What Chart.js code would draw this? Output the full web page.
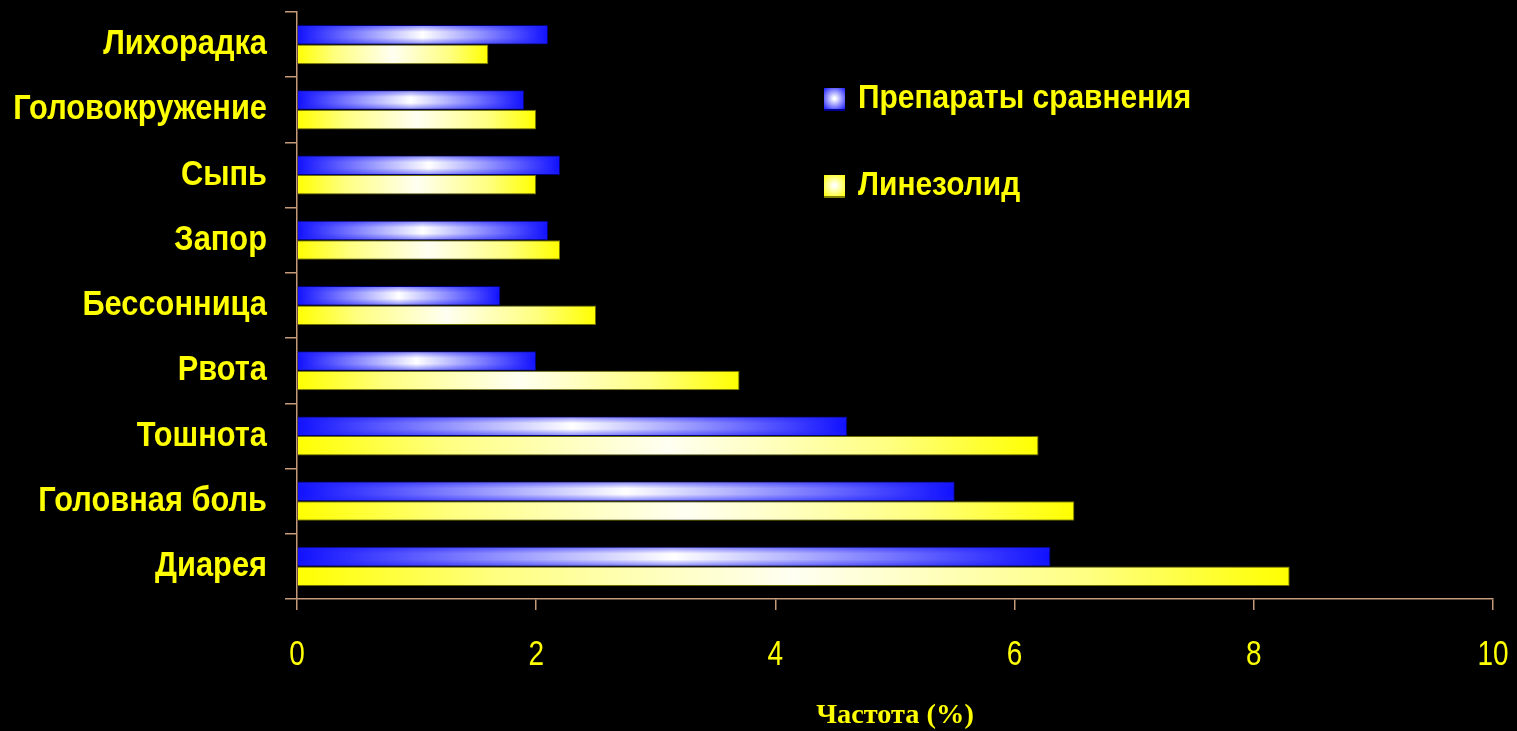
<!DOCTYPE html>
<html lang="ru">
<head>
<meta charset="utf-8">
<title>Частота нежелательных явлений</title>
<script src="https://cdn.jsdelivr.net/npm/chart.js@4.4.1/dist/chart.umd.min.js"></script>
<style>
  html, body { margin: 0; padding: 0; background: #000; }
  #wrap { position: relative; width: 1517px; height: 731px; }
</style>
</head>
<body>
<div id="wrap"><canvas id="aeChart"></canvas></div>
<script>
// Categories, top to bottom
const categories = ['Лихорадка', 'Головокружение', 'Сыпь', 'Запор', 'Бессонница', 'Рвота', 'Тошнота', 'Головная боль', 'Диарея'];
const comparatorValues = [2.1, 1.9, 2.2, 2.1, 1.7, 2.0, 4.6, 5.5, 6.3];
const linezolidValues = [1.6, 2.0, 2.0, 2.2, 2.5, 3.7, 6.2, 6.5, 8.3];
const seriesNames = ['Препараты сравнения', 'Линезолид'];
const xMin = 0, xMax = 10, xStep = 2;
const xTitle = 'Частота (%)';

const YELLOW = '#ffff00';
const AXIS = '#c49a7a';
const SANS = '"Liberation Sans", Arial, sans-serif';
const SERIF = '"Liberation Serif", "Times New Roman", serif';

// no narrow face installed, so squeeze the sans text horizontally
function narrowText(c, text, x, y, font, sx, align) {
  c.save();
  c.font = font;
  c.textBaseline = 'middle';
  c.textAlign = align;
  c.translate(x, y);
  c.scale(sx, 1);
  c.fillText(text, 0, 0);
  c.restore();
}

// shiny gradient along the length of each bar
function barFill(edge, mid, light) {
  return ctx => {
    const chart = ctx.chart;
    if (!chart.chartArea || ctx.raw == null) return edge;
    const x0 = chart.scales.x.getPixelForValue(0);
    const x1 = chart.scales.x.getPixelForValue(ctx.raw);
    if (x1 - x0 < 2) return edge;
    const g = chart.ctx.createLinearGradient(x0, 0, x1, 0);
    g.addColorStop(0, edge);
    g.addColorStop(0.2, mid);
    g.addColorStop(0.5, light);
    g.addColorStop(0.8, mid);
    g.addColorStop(1, edge);
    return g;
  };
}

// darker top and bottom bands on the blue bars
const barShade = {
  id: 'barShade',
  afterDatasetsDraw(chart) {
    const c = chart.ctx;
    chart.getDatasetMeta(0).data.forEach(bar => {
      const { x, y, base, height } = bar.getProps(['x', 'y', 'base', 'height']);
      const top = y - height / 2;
      const g = c.createLinearGradient(0, top, 0, top + height);
      g.addColorStop(0, 'rgba(30,30,255,0.55)');
      g.addColorStop(0.35, 'rgba(30,30,255,0)');
      g.addColorStop(0.65, 'rgba(30,30,255,0)');
      g.addColorStop(1, 'rgba(30,30,255,0.55)');
      c.save();
      c.fillStyle = g;
      c.fillRect(base + 1, top + 1, x - base - 2, height - 2);
      c.restore();
    });
  }
};

// tick labels and axis title
const axisText = {
  id: 'axisText',
  afterDraw(chart) {
    const c = chart.ctx;
    const { x: xs, y: ys } = chart.scales;
    c.save();
    c.fillStyle = YELLOW;
    chart.data.labels.forEach((lab, i) => {
      narrowText(c, lab, 267, ys.getPixelForTick(i), 'bold 35px ' + SANS, 0.88, 'right');
    });
    xs.ticks.forEach((t, i) => {
      narrowText(c, String(t.value), xs.getPixelForTick(i), 655, '35px ' + SANS, 0.8, 'center');
    });
    const mid = (chart.chartArea.left + chart.chartArea.right) / 2;
    narrowText(c, xTitle, mid, 716, 'bold 27px ' + SERIF, 1.05, 'center');
    c.restore();
  }
};

// Legend drawn inside the plot, upper right
const innerLegend = {
  id: 'innerLegend',
  afterDraw(chart) {
    const c = chart.ctx;
    const rows = [
      { y: 99, ds: chart.data.datasets[0], edge: '#1a1aff', border: '#000090' },
      { y: 186, ds: chart.data.datasets[1], edge: '#ffff00', border: '#808000' }
    ];
    c.save();
    rows.forEach(r => {
      const bx = 824, by = r.y - 11, s = 21;
      const g = c.createRadialGradient(bx + s / 2, by + s / 2, 1, bx + s / 2, by + s / 2, s * 0.7);
      g.addColorStop(0, '#ffffff');
      g.addColorStop(1, r.edge);
      c.fillStyle = g;
      c.fillRect(bx, by, s, s);
      c.fillStyle = r.border;
      c.fillRect(bx, by + s, s, 2);
      c.fillStyle = YELLOW;
      narrowText(c, r.ds.label, 858, r.y, 'bold 34px ' + SANS, 0.88, 'left');
    });
    c.restore();
  }
};

new Chart(document.getElementById('aeChart'), {
  type: 'bar',
  data: {
    labels: categories,
    datasets: [{
      label: seriesNames[0],
      data: comparatorValues,
      backgroundColor: barFill('#1010ff', '#7070ff', '#ffffff'),
      borderColor: '#00007a',
      borderWidth: 1,
      borderSkipped: 'start'
    }, {
      label: seriesNames[1],
      data: linezolidValues,
      backgroundColor: barFill('#ffff00', '#ffff80', '#fffff2'),
      borderColor: '#6e6e00',
      borderWidth: 1,
      borderSkipped: 'start'
    }]
  },
  options: {
    indexAxis: 'y',
    responsive: true,
    maintainAspectRatio: false,
    animation: false,
    layout: { padding: { top: 12, right: 24, left: 0, bottom: 0 } },
    datasets: { bar: { categoryPercentage: 0.6, barPercentage: 1.0 } },
    scales: {
      x: {
        min: xMin,
        max: xMax,
        ticks: { stepSize: xStep, display: false },
        grid: { drawOnChartArea: false, drawTicks: true, tickLength: 11, color: AXIS, lineWidth: 1.5 },
        border: { display: true, color: AXIS, width: 1.5 },
        afterFit(scale) { scale.height = 731 - 599; }
      },
      y: {
        ticks: { display: false },
        grid: { drawOnChartArea: false, drawTicks: true, tickLength: 12, color: AXIS, lineWidth: 1.5, offset: true },
        border: { display: true, color: AXIS, width: 1.5 },
        afterFit(scale) { scale.width = 297; }
      }
    },
    plugins: {
      legend: { display: false },
      tooltip: { enabled: false }
    }
  },
  plugins: [barShade, axisText, innerLegend]
});
</script>
</body>
</html>
